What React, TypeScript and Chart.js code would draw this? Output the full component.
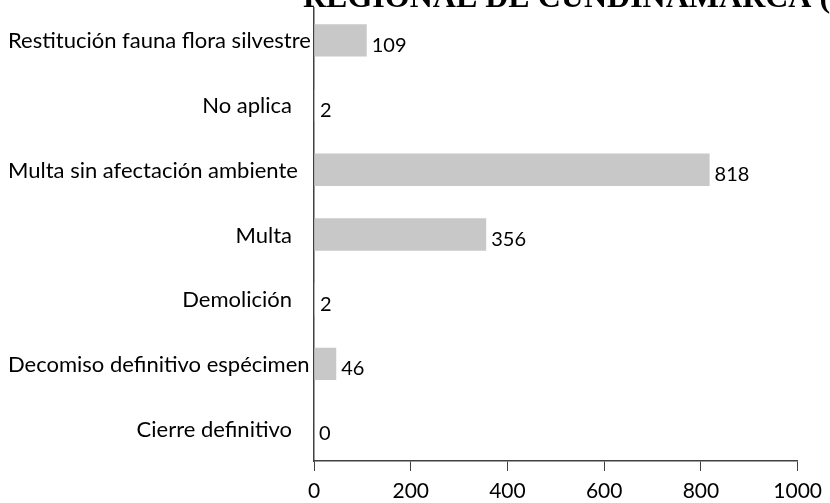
import React, { useEffect, useRef } from "react";
import { Chart, registerables } from "chart.js";

Chart.register(...registerables);

const categories = [
  "Restitución fauna flora silvestre",
  "No aplica",
  "Multa sin afectación ambiente",
  "Multa",
  "Demolición",
  "Decomiso definitivo espécimen",
  "Cierre definitivo",
];
const values = [109, 2, 818, 356, 2, 46, 0];
const xTicks = [0, 200, 400, 600, 800, 1000];
const titleText = "REGIONAL DE CUNDINAMARCA (CAR)";

const FONT = "Lato";

const labelsPlugin = {
  id: "customLabels",
  afterDraw(chart: any) {
    const ctx = chart.ctx;
    const y = chart.scales.y;
    const meta = chart.getDatasetMeta(0);
    ctx.save();
    // title (clipped at top)
    ctx.font = 'bold 32px "Liberation Serif"';
    ctx.fillStyle = "#000";
    ctx.textAlign = "left";
    ctx.textBaseline = "alphabetic";
    ctx.fillText(titleText, 303, 7);
    // category labels
    ctx.font = `22px ${FONT}`;
    ctx.textBaseline = "middle";
    ctx.textAlign = "right";
    categories.forEach((c, i) => {
      const w = ctx.measureText(c).width;
      const right = Math.max(292, 8 + w);
      ctx.fillText(c, right, y.getPixelForTick(i) + 1);
    });
    // value labels
    ctx.font = `20px ${FONT}`;
    ctx.textAlign = "left";
    meta.data.forEach((bar: any, i: number) => {
      ctx.fillText(String(values[i]), bar.x + 5, bar.y + 5);
    });
    ctx.restore();
  },
};

export default function App() {
  const ref = useRef<HTMLCanvasElement>(null);
  useEffect(() => {
    if (!ref.current) return;
    const chart = new Chart(ref.current, {
      type: "bar",
      data: {
        labels: categories,
        datasets: [
          {
            data: values,
            backgroundColor: "#c8c8c8",
            borderWidth: 0,
            barPercentage: 0.5,
            categoryPercentage: 1,
          },
        ],
      },
      options: {
        indexAxis: "y",
        animation: false,
        responsive: true,
        maintainAspectRatio: false,
        layout: { padding: { top: 8, right: 29, bottom: 0, left: 0 } },
        plugins: {
          legend: { display: false },
          tooltip: { enabled: false },
          title: { display: false },
        },
        scales: {
          x: {
            type: "linear",
            min: 0,
            max: 1000,
            afterBuildTicks: (s: any) => {
              s.ticks = xTicks.map((v) => ({ value: v }));
            },
            afterFit: (s: any) => {
              s.height = 42;
            },
            ticks: {
              color: "#000",
              font: { family: FONT, size: 21 },
              padding: 8,
              callback: (v: any) => String(v),
            },
            grid: {
              display: true,
              drawOnChartArea: false,
              drawTicks: true,
              tickLength: 10,
              color: "#404040",
            },
            border: { display: true, color: "#404040", width: 1.5 },
          },
          y: {
            type: "category",
            afterFit: (s: any) => {
              s.width = 314;
            },
            ticks: { display: false },
            grid: { display: true, drawOnChartArea: false, drawTicks: false },
            border: { display: true, color: "#404040", width: 1.5 },
          },
        },
      },
      plugins: [labelsPlugin],
    });
    return () => chart.destroy();
  }, []);
  return (
    <div style={{ position: "absolute", left: 0, top: 0, width: 830, height: 503, background: "#fff" }}>
      <canvas ref={ref} />
    </div>
  );
}
